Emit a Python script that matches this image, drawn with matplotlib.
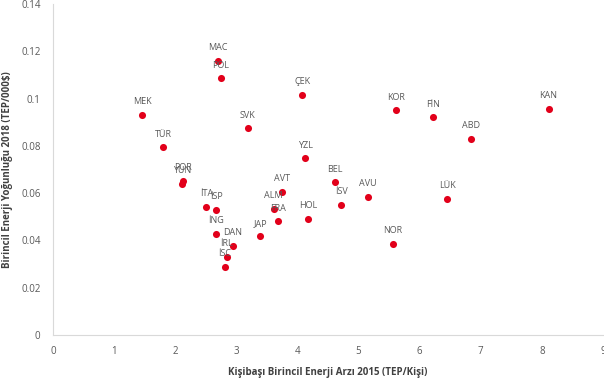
import matplotlib
matplotlib.use('Agg')
import matplotlib.pyplot as plt

countries = ['MEK', 'MAC', 'POL', 'TÜR', 'POR', 'YUN', 'SVK', 'ÇEK', 'YZL', 'KOR',
             'FİN', 'ABD', 'KAN', 'BEL', 'AVT', 'AVU', 'İSV', 'LÜK', 'ALM', 'FRA',
             'HOL', 'JAP', 'İTA', 'İSP', 'İNG', 'DAN', 'İRL', 'İSC', 'NOR']
supply_2015 = [1.46, 2.70, 2.75, 1.80, 2.13, 2.11, 3.19, 4.08, 4.13, 5.62,
               6.22, 6.84, 8.11, 4.61, 3.75, 5.15, 4.72, 6.45, 3.61, 3.68,
               4.18, 3.39, 2.51, 2.67, 2.67, 2.94, 2.84, 2.81, 5.56]
intensity_2018 = [0.0932, 0.1161, 0.1086, 0.0794, 0.0652, 0.0638, 0.0874, 0.1016, 0.0747, 0.0950,
                  0.0920, 0.0831, 0.0956, 0.0646, 0.0606, 0.0584, 0.0550, 0.0575, 0.0534, 0.0481,
                  0.0492, 0.0417, 0.0542, 0.0528, 0.0428, 0.0377, 0.0330, 0.0288, 0.0385]

plt.rcParams['font.family'] = ['Open Sans', 'DejaVu Sans']

fig = plt.figure(figsize=(6.04, 3.85), dpi=100)
ax = fig.add_axes([53 / 604, 50 / 385, 550 / 604, 331 / 385])

ax.scatter(supply_2015, intensity_2018, s=26, color='#E2001A', zorder=3, linewidths=0)
for name, x, y in zip(countries, supply_2015, intensity_2018):
    ax.annotate(name, (x, y), xytext=(0, 9.5), textcoords='offset points',
                ha='center', va='center', fontsize=6.5, color='#595959')

ax.set_xlim(0, 9)
ax.set_ylim(0, 0.14)
ax.set_xticks(range(0, 10))
ax.set_yticks([0, 0.02, 0.04, 0.06, 0.08, 0.1, 0.12, 0.14])
ax.set_yticklabels(['0', '0.02', '0.04', '0.06', '0.08', '0.1', '0.12', '0.14'])
ax.tick_params(length=0, labelsize=7, colors='#595959')
ax.tick_params(axis='y', pad=9)
ax.tick_params(axis='x', pad=8)

for side in ['top', 'right']:
    ax.spines[side].set_visible(False)
for side in ['left', 'bottom']:
    ax.spines[side].set_color('#d9d9d9')
    ax.spines[side].set_linewidth(0.8)

ax.set_xlabel('Kişibaşı Birincil Enerji Arzı 2015 (TEP/Kişi)', fontsize=7,
              fontweight='bold', color='#404040', labelpad=7)
ax.set_ylabel('Birincil Enerji Yoğunluğu 2018 (TEP/000$)', fontsize=7,
              fontweight='bold', color='#404040')
ax.yaxis.set_label_coords(-0.072, 0.5)

fig.savefig('out.png', dpi=100)
